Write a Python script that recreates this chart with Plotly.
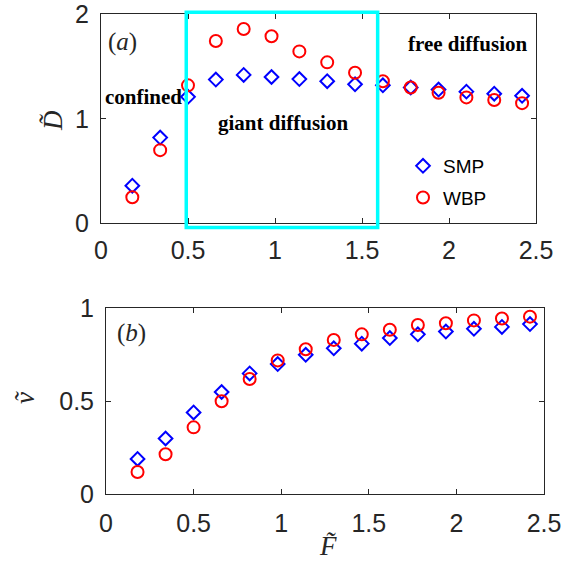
import plotly.graph_objects as go

F = [0.18, 0.34, 0.50, 0.66, 0.82, 0.98, 1.14, 1.30, 1.46, 1.62, 1.78, 1.94, 2.10, 2.26, 2.42]
D_SMP = [0.36, 0.82, 1.21, 1.375, 1.42, 1.40, 1.38, 1.36, 1.33, 1.32, 1.30, 1.28, 1.26, 1.24, 1.22]
D_WBP = [0.25, 0.70, 1.32, 1.745, 1.86, 1.79, 1.645, 1.54, 1.44, 1.36, 1.30, 1.25, 1.205, 1.18, 1.15]
V_SMP = [0.19, 0.30, 0.44, 0.55, 0.65, 0.70, 0.75, 0.785, 0.81, 0.84, 0.86, 0.875, 0.89, 0.90, 0.915]
V_WBP = [0.12, 0.215, 0.36, 0.50, 0.62, 0.72, 0.78, 0.83, 0.86, 0.885, 0.91, 0.92, 0.935, 0.945, 0.955]
SERIES = ["SMP", "WBP"]
X_TICKS = [0, 0.5, 1, 1.5, 2, 2.5]
X_TICK_LABELS = ["0", "0.5", "1", "1.5", "2", "2.5"]
YA_TICKS = [0, 1, 2]
YB_TICKS = [0, 0.5, 1]
YB_TICK_LABELS = ["0", "0.5", "1"]
GIANT_REGION = [0.49, 1.59]   # F range of the highlighted region
XR = [0, 2.5]
YA_R = [0, 2]
YB_R = [0, 1]

W, H = 561, 564
AX = "#262626"
BLUE = "#0000FF"
RED = "#FF0000"
CYAN = "#00FFFF"
SANS = "Liberation Sans, Arial, sans-serif"
SERIF = "Liberation Serif, Times New Roman, serif"

fig = go.Figure()

diamond = dict(symbol="diamond-open", size=10.5, color=BLUE, line=dict(width=2, color=BLUE))
circle = dict(symbol="circle-open", size=12, color=RED, line=dict(width=2, color=RED))

fig.add_trace(go.Scatter(x=F, y=D_SMP, mode="markers", name=SERIES[0], marker=diamond,
                         legendgroup="a", xaxis="x", yaxis="y", cliponaxis=False))
fig.add_trace(go.Scatter(x=F, y=D_WBP, mode="markers", name=SERIES[1], marker=circle,
                         legendgroup="b", xaxis="x", yaxis="y", cliponaxis=False))
fig.add_trace(go.Scatter(x=F, y=V_SMP, mode="markers", name=SERIES[0], marker=diamond,
                         showlegend=False, xaxis="x2", yaxis="y2", cliponaxis=False))
fig.add_trace(go.Scatter(x=F, y=V_WBP, mode="markers", name=SERIES[1], marker=circle,
                         showlegend=False, xaxis="x2", yaxis="y2", cliponaxis=False))

def px_x(p):
    return p / W

def px_y(p):
    return 1 - p / H

axis_common = dict(showline=True, linecolor=AX, linewidth=1, mirror="ticks", ticks="inside",
                   ticklen=5, tickcolor=AX, tickwidth=1, showgrid=False, zeroline=False,
                   automargin=False, ticklabeloverflow="allow",
                   tickfont=dict(family=SANS, size=25, color=AX), fixedrange=True)

fig.update_layout(
    width=W, height=H,
    margin=dict(l=0, r=0, t=0, b=0, autoexpand=False),
    paper_bgcolor="white", plot_bgcolor="white",
    xaxis=dict(domain=[px_x(101), px_x(536)], range=XR, tickvals=X_TICKS, ticktext=X_TICK_LABELS,
               anchor="y", ticklabelstandoff=5, **axis_common),
    yaxis=dict(domain=[px_y(223.3), px_y(14.3)], range=YA_R, tickvals=YA_TICKS,
               anchor="x", ticklabelstandoff=6, **axis_common),
    xaxis2=dict(domain=[px_x(106), px_x(544)], range=XR, tickvals=X_TICKS, ticktext=X_TICK_LABELS,
                anchor="y2", ticklabelstandoff=7, **axis_common),
    yaxis2=dict(domain=[px_y(494.3), px_y(308.3)], range=YB_R, tickvals=YB_TICKS, ticktext=YB_TICK_LABELS,
                anchor="x2", ticklabelstandoff=6, **axis_common),
    legend=dict(x=px_x(403), y=px_y(147), xanchor="left", yanchor="top",
                font=dict(family=SANS, size=19, color="black"), bgcolor="rgba(0,0,0,0)",
                traceorder="grouped", tracegroupgap=4, itemwidth=30),
    showlegend=True,
)

# highlighted "giant diffusion" region, slightly exceeding the axes box as in the original
fig.add_shape(type="rect", xref="x domain", yref="y domain",
              x0=(GIANT_REGION[0] - XR[0]) / (XR[1] - XR[0]),
              x1=(GIANT_REGION[1] - XR[0]) / (XR[1] - XR[0]),
              y0=-0.02, y1=1.01, line=dict(color=CYAN, width=3.5), fillcolor="rgba(0,0,0,0)")

bold_serif = dict(family=SERIF, size=21, color="black")
fig.add_annotation(x=0.126, y=1.735, xref="x", yref="y", text="(<i>a</i>)", showarrow=False,
                   font=dict(family=SERIF, size=25, color=AX))
fig.add_annotation(x=0.01, y=1.21, xref="x", yref="y", text="<b>confined</b>", showarrow=False,
                   xanchor="left", font=bold_serif)
fig.add_annotation(x=1.046, y=0.96, xref="x", yref="y", text="<b>giant diffusion</b>", showarrow=False,
                   font=bold_serif)
fig.add_annotation(x=2.109, y=1.715, xref="x", yref="y", text="<b>free diffusion</b>", showarrow=False,
                   font=bold_serif)
fig.add_annotation(x=0.146, y=0.867, xref="x2", yref="y2", text="(<i>b</i>)", showarrow=False,
                   font=dict(family=SERIF, size=25, color=AX))

# axis titles
title_font = dict(family=SERIF, size=27, color=AX)
fig.add_annotation(x=px_x(53), y=px_y(120), xref="paper", yref="paper", text="<i>D\u0303</i>",
                   showarrow=False, textangle=-90, xanchor="center", yanchor="middle", font=title_font)
fig.add_annotation(x=px_x(25), y=px_y(398), xref="paper", yref="paper", text="<i>v\u0303</i>",
                   showarrow=False, textangle=-90, xanchor="center", yanchor="middle", font=title_font)
fig.add_annotation(x=px_x(328), y=px_y(546), xref="paper", yref="paper", text="<i>F\u0303</i>",
                   showarrow=False, xanchor="center", yanchor="middle", font=title_font)

fig.write_html("out.html", config={"displayModeBar": False},
               post_script="document.body.style.margin='0';document.body.style.overflow='hidden';")
